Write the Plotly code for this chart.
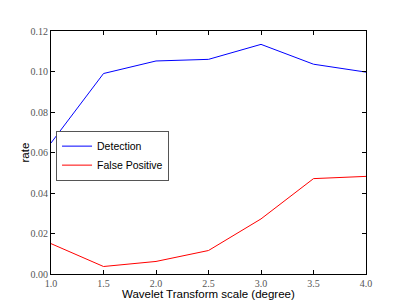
import plotly.graph_objects as go

scales = [1.0, 1.5, 2.0, 2.5, 3.0, 3.5, 4.0]
detection = [0.0647, 0.0990, 0.1052, 0.1060, 0.1134, 0.1036, 0.0997]
false_positive = [0.0150, 0.0037, 0.0062, 0.0116, 0.0272, 0.0471, 0.0482]
x_ticks = [1.0, 1.5, 2.0, 2.5, 3.0, 3.5, 4.0]
y_ticks = [0.00, 0.02, 0.04, 0.06, 0.08, 0.10, 0.12]
x_label = "Wavelet Transform scale (degree)"
y_label = "rate"

fig = go.Figure()
fig.add_trace(go.Scatter(x=scales, y=detection, mode="lines", name="Detection",
                         line=dict(color="#0000ff", width=1)))
fig.add_trace(go.Scatter(x=scales, y=false_positive, mode="lines", name="False Positive",
                         line=dict(color="#ff0000", width=1)))

tickfont = dict(family="Liberation Serif, serif", size=10, color="#555555")
axis_common = dict(showgrid=False, zeroline=False, showline=True, linecolor="#000000",
                   linewidth=1, mirror="ticks", ticks="inside", ticklen=4,
                   tickcolor="#000000", tickfont=tickfont, automargin=False)
title_font = dict(family="Liberation Sans, Arial, sans-serif", size=11.5, color="#000")

fig.update_layout(
    width=407, height=305,
    margin=dict(l=51, r=41, t=31, b=31, autoexpand=False),
    paper_bgcolor="white", plot_bgcolor="white",
    xaxis=dict(range=[1.0, 4.0], tickvals=x_ticks, tickformat=".1f", **axis_common),
    yaxis=dict(range=[0.0, 0.12], tickvals=y_ticks, tickformat=".2f", **axis_common),
    legend=dict(x=0.016, y=0.59, xanchor="left", yanchor="top",
                bgcolor="white", bordercolor="#555555", borderwidth=1,
                font=dict(family="Liberation Sans, Arial, sans-serif", size=10.5, color="#000"),
                tracegroupgap=0, itemwidth=30),
    showlegend=True,
    annotations=[
        dict(text=x_label, xref="paper", yref="paper", x=0.5, y=0,
             xanchor="center", yanchor="top", yshift=-12, showarrow=False, font=title_font),
        dict(text=y_label, xref="paper", yref="paper", x=0, y=0.5, textangle=-90,
             xanchor="center", yanchor="middle", xshift=-27, showarrow=False, font=title_font),
    ],
)

fig.write_html("out.html", config={"displayModeBar": False},
               post_script="document.body.style.margin='0';document.body.style.overflow='hidden';")
